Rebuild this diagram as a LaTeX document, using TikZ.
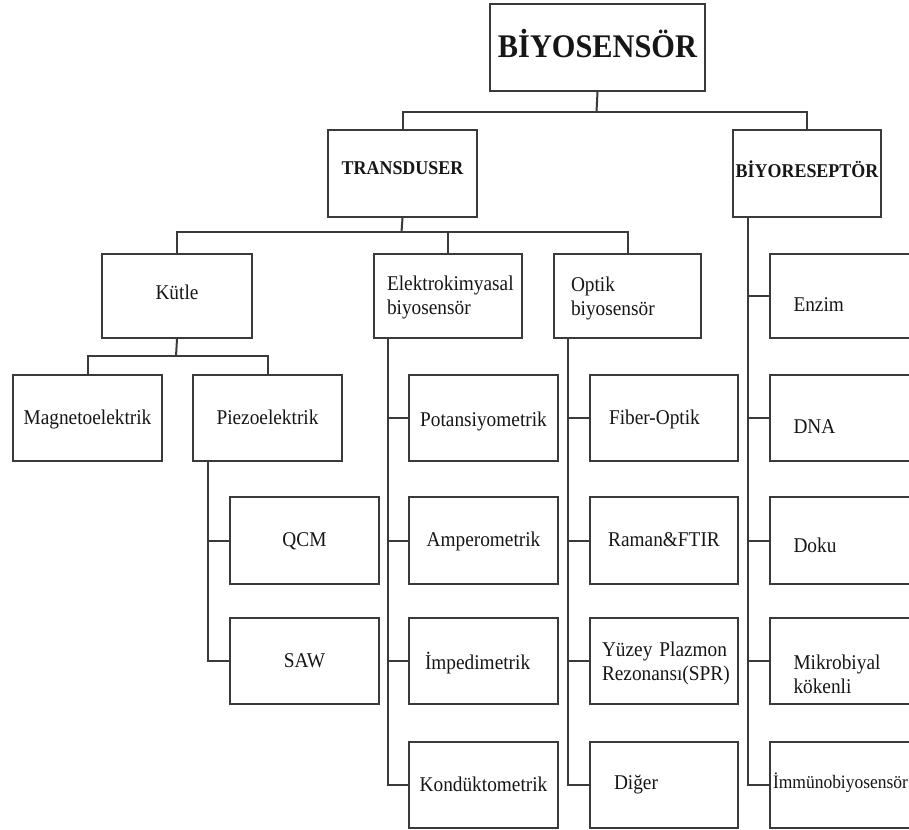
\documentclass[tikz,border=0pt]{standalone}
\usepackage{fontspec}
\setmainfont[FakeStretch=0.92]{Liberation Serif}
\definecolor{linegray}{RGB}{58,58,58}
\definecolor{ink}{RGB}{22,22,22}
\begin{document}
\begin{tikzpicture}[x=1pt,y=-1pt,
  edge/.style={draw=linegray, line width=2pt},
  box/.style={draw=linegray, line width=2pt, rectangle, anchor=north west,
    inner sep=0pt, minimum width=149pt, minimum height=86pt, text=ink,
    font=\fontsize{21}{24.5}\selectfont, text height=16pt, text depth=4pt},
  lbox/.style={box, align=left, text width=#1},
  head/.style={box, font=\fontsize{19.5}{22}\selectfont\bfseries},
]
\useasboundingbox (0,0) rectangle (909,829);
\fill[white] (0,0) rectangle (909,829);
\clip (0,0) rectangle (909,829);

% top levels
\node[box, minimum width=215pt, minimum height=87pt,
  font=\fontsize{33}{36}\selectfont\bfseries, text height=25pt, text depth=4pt]
  (root) at (489,3) {BİYOSENSÖR};
\node[head, minimum height=87pt, text height=8pt, text depth=5pt] (trans) at (327,129) {TRANSDUSER};
\node[head, minimum width=148pt, minimum height=87pt, text height=13pt, text depth=4pt] (rec) at (732,129) {BİYORESEPTÖR};

% transducer types
\node[box, minimum width=150pt, minimum height=84pt, text height=10pt] (kutle) at (101,253) {Kütle};
\node[lbox=122pt, minimum width=148pt, minimum height=84pt, text height=4pt, text depth=16pt] (elek) at (373,253) {\mbox{Elektrokimyasal}\\biyosensör};
\node[lbox=113pt, minimum width=147pt, minimum height=84pt, text height=4pt, text depth=14pt] (optik) at (553,253) {Optik\\biyosensör};

% mass sensors
\node[box] (magneto) at (12,374) {Magnetoelektrik};
\node[box] (piezo) at (192,374) {Piezoelektrik};
\node[box, minimum height=87pt] (qcm) at (229,496) {QCM};
\node[box] (saw) at (229,617) {SAW};

% electrochemical
\node[box, text height=20pt] (potans) at (408,374) {Potansiyometrik};
\node[box, minimum height=87pt] (amper) at (408,496) {Amperometrik};
\node[lbox=117pt, text height=20pt] (imped) at (408,617) {İmpedimetrik};
\node[box] (kond) at (408,741) {Kondüktometrik};

% optical
\node[lbox=110pt, minimum width=148pt] (fiber) at (589,374) {Fiber-Optik};
\node[box, minimum width=148pt, minimum height=87pt] (raman) at (589,496) {Raman\&FTIR};
\node[lbox=124pt, minimum width=148pt, text height=4pt, text depth=14pt] (yuzey) at (589,617) {\mbox{Yüzey Plazmon}\\\mbox{Rezonansı(SPR)}};
\node[lbox=100pt, minimum width=148pt, text height=12pt] (diger) at (589,741) {Diğer};

% bioreceptors
\node[lbox=102pt, minimum height=84pt, text height=34pt] (enzim) at (769,253) {Enzim};
\node[lbox=102pt, text height=34pt] (dna) at (769,374) {DNA};
\node[lbox=102pt, minimum height=87pt, text height=28pt] (doku) at (769,496) {Doku};
\node[lbox=102pt, text height=20pt, text depth=4pt] (mikro) at (769,617) {Mikrobiyal\\kökenli};
\node[lbox=143pt, text height=10pt, font=\fontsize{19}{22}\selectfont] (immuno) at (769,741) {\mbox{İmmünobiyosensör}};

% tree connectors
\coordinate (j0) at (596.5,112);
\draw[edge] (root.south) -- (j0);
\draw[edge] (trans.north) |- (j0) -| (rec.north);

\coordinate (j1) at (401.5,232);
\draw[edge] (trans.south) -- (j1);
\draw[edge] (kutle.north) |- (j1) -| (optik.north);
\draw[edge] (elek.north) -- (elek.north |- j1);

\coordinate (j2) at (176,356);
\draw[edge] (kutle.south) -- (j2);
\draw[edge] (magneto.north) |- (j2) -| (piezo.north);

% side trunks
\coordinate (pz) at ([xshift=16pt]piezo.south west);
\draw[edge] (pz) |- (saw.west);
\draw[edge] (qcm.west) -- (qcm.west -| pz);

\coordinate (ek) at ([xshift=15pt]elek.south west);
\draw[edge] (ek) |- (kond.west);
\foreach \n in {potans,amper,imped}
  \draw[edge] (\n.west) -- (\n.west -| ek);

\coordinate (ok) at ([xshift=15pt]optik.south west);
\draw[edge] (ok) |- (diger.west);
\foreach \n in {fiber,raman,yuzey}
  \draw[edge] (\n.west) -- (\n.west -| ok);

\coordinate (rk) at ([xshift=16pt]rec.south west);
\draw[edge] (rk) |- (immuno.west);
\foreach \n in {enzim,dna,doku,mikro}
  \draw[edge] (\n.west) -- (\n.west -| rk);
\end{tikzpicture}
\end{document}
